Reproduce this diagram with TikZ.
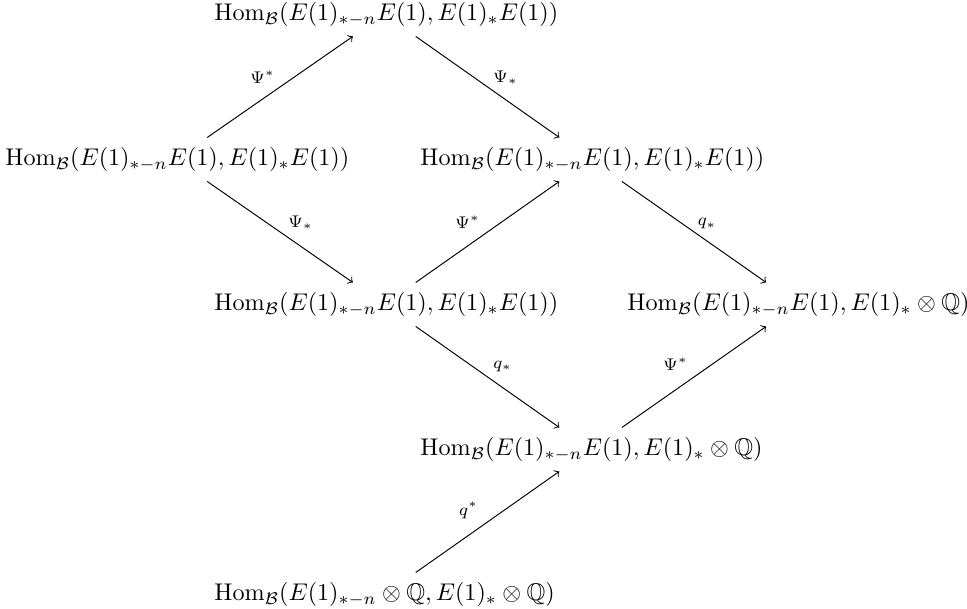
\documentclass[tikz,border=0pt]{standalone}
\usepackage{amssymb}
\usetikzlibrary{arrows}
\newcommand{\homE}{\mathrm{Hom}_{\mathcal{B}}(E(1)_{*-n}E(1), E(1)_{*}E(1))}
\newcommand{\homQ}{\mathrm{Hom}_{\mathcal{B}}(E(1)_{*-n}E(1), E(1)_{*}\otimes\mathbb{Q})}
\newcommand{\homQQ}{\mathrm{Hom}_{\mathcal{B}}(E(1)_{*-n}\otimes\mathbb{Q}, E(1)_{*}\otimes\mathbb{Q})}
\begin{document}
\begin{tikzpicture}[x=0.414pt, y=-0.414pt,
  obj/.style={anchor=base west, inner xsep=0pt, inner ysep=3.9pt,
    text height=7.5pt, text depth=2.5pt},
  arr/.style={->, >=to, line width=0.4pt},
  lab/.style={font=\scriptsize, inner sep=0pt}]
\useasboundingbox (0,0) rectangle (967,609);
% objects, left edges of the columns and baselines of the rows
\node[obj] (L) at (5,165.5)   {\makebox[140.8pt][l]{$\homE$}};
\node[obj] (T) at (214,20.5)  {\makebox[140.8pt][l]{$\homE$}};
\node[obj] (A) at (420,165.5) {\makebox[140.8pt][l]{$\homE$}};
\node[obj] (B) at (214,310.5) {\makebox[140.8pt][l]{$\homE$}};
\node[obj] (C) at (627,310.5) {\makebox[140.8pt][l]{$\homQ$}};
\node[obj] (D) at (420,455.5) {\makebox[140.8pt][l]{$\homQ$}};
\node[obj] (E) at (214,600.5) {\makebox[140.8pt][l]{$\homQQ$}};
% maps
\draw[arr] (L) -- (T) node[lab, midway, shift={(-17.5,-9.5)}] {$\Psi^{*}$};
\draw[arr] (T) -- (A) node[lab, midway, shift={(18,-9.5)}] {$\Psi_{*}$};
\draw[arr] (L) -- (B) node[lab, midway, shift={(20.5,-9.5)}] {$\Psi_{*}$};
\draw[arr] (B) -- (A) node[lab, midway, shift={(-20,-9.5)}] {$\Psi^{*}$};
\draw[arr] (A) -- (C) node[lab, midway, shift={(13,-8)}] {$q_{*}$};
\draw[arr] (B) -- (D) node[lab, midway, shift={(15,-10.5)}] {$q_{*}$};
\draw[arr] (D) -- (C) node[lab, midway, shift={(-18.5,-12.5)}] {$\Psi^{*}$};
\draw[arr] (E) -- (D) node[lab, midway, shift={(-19,-11.5)}] {$q^{*}$};
\end{tikzpicture}
\end{document}
